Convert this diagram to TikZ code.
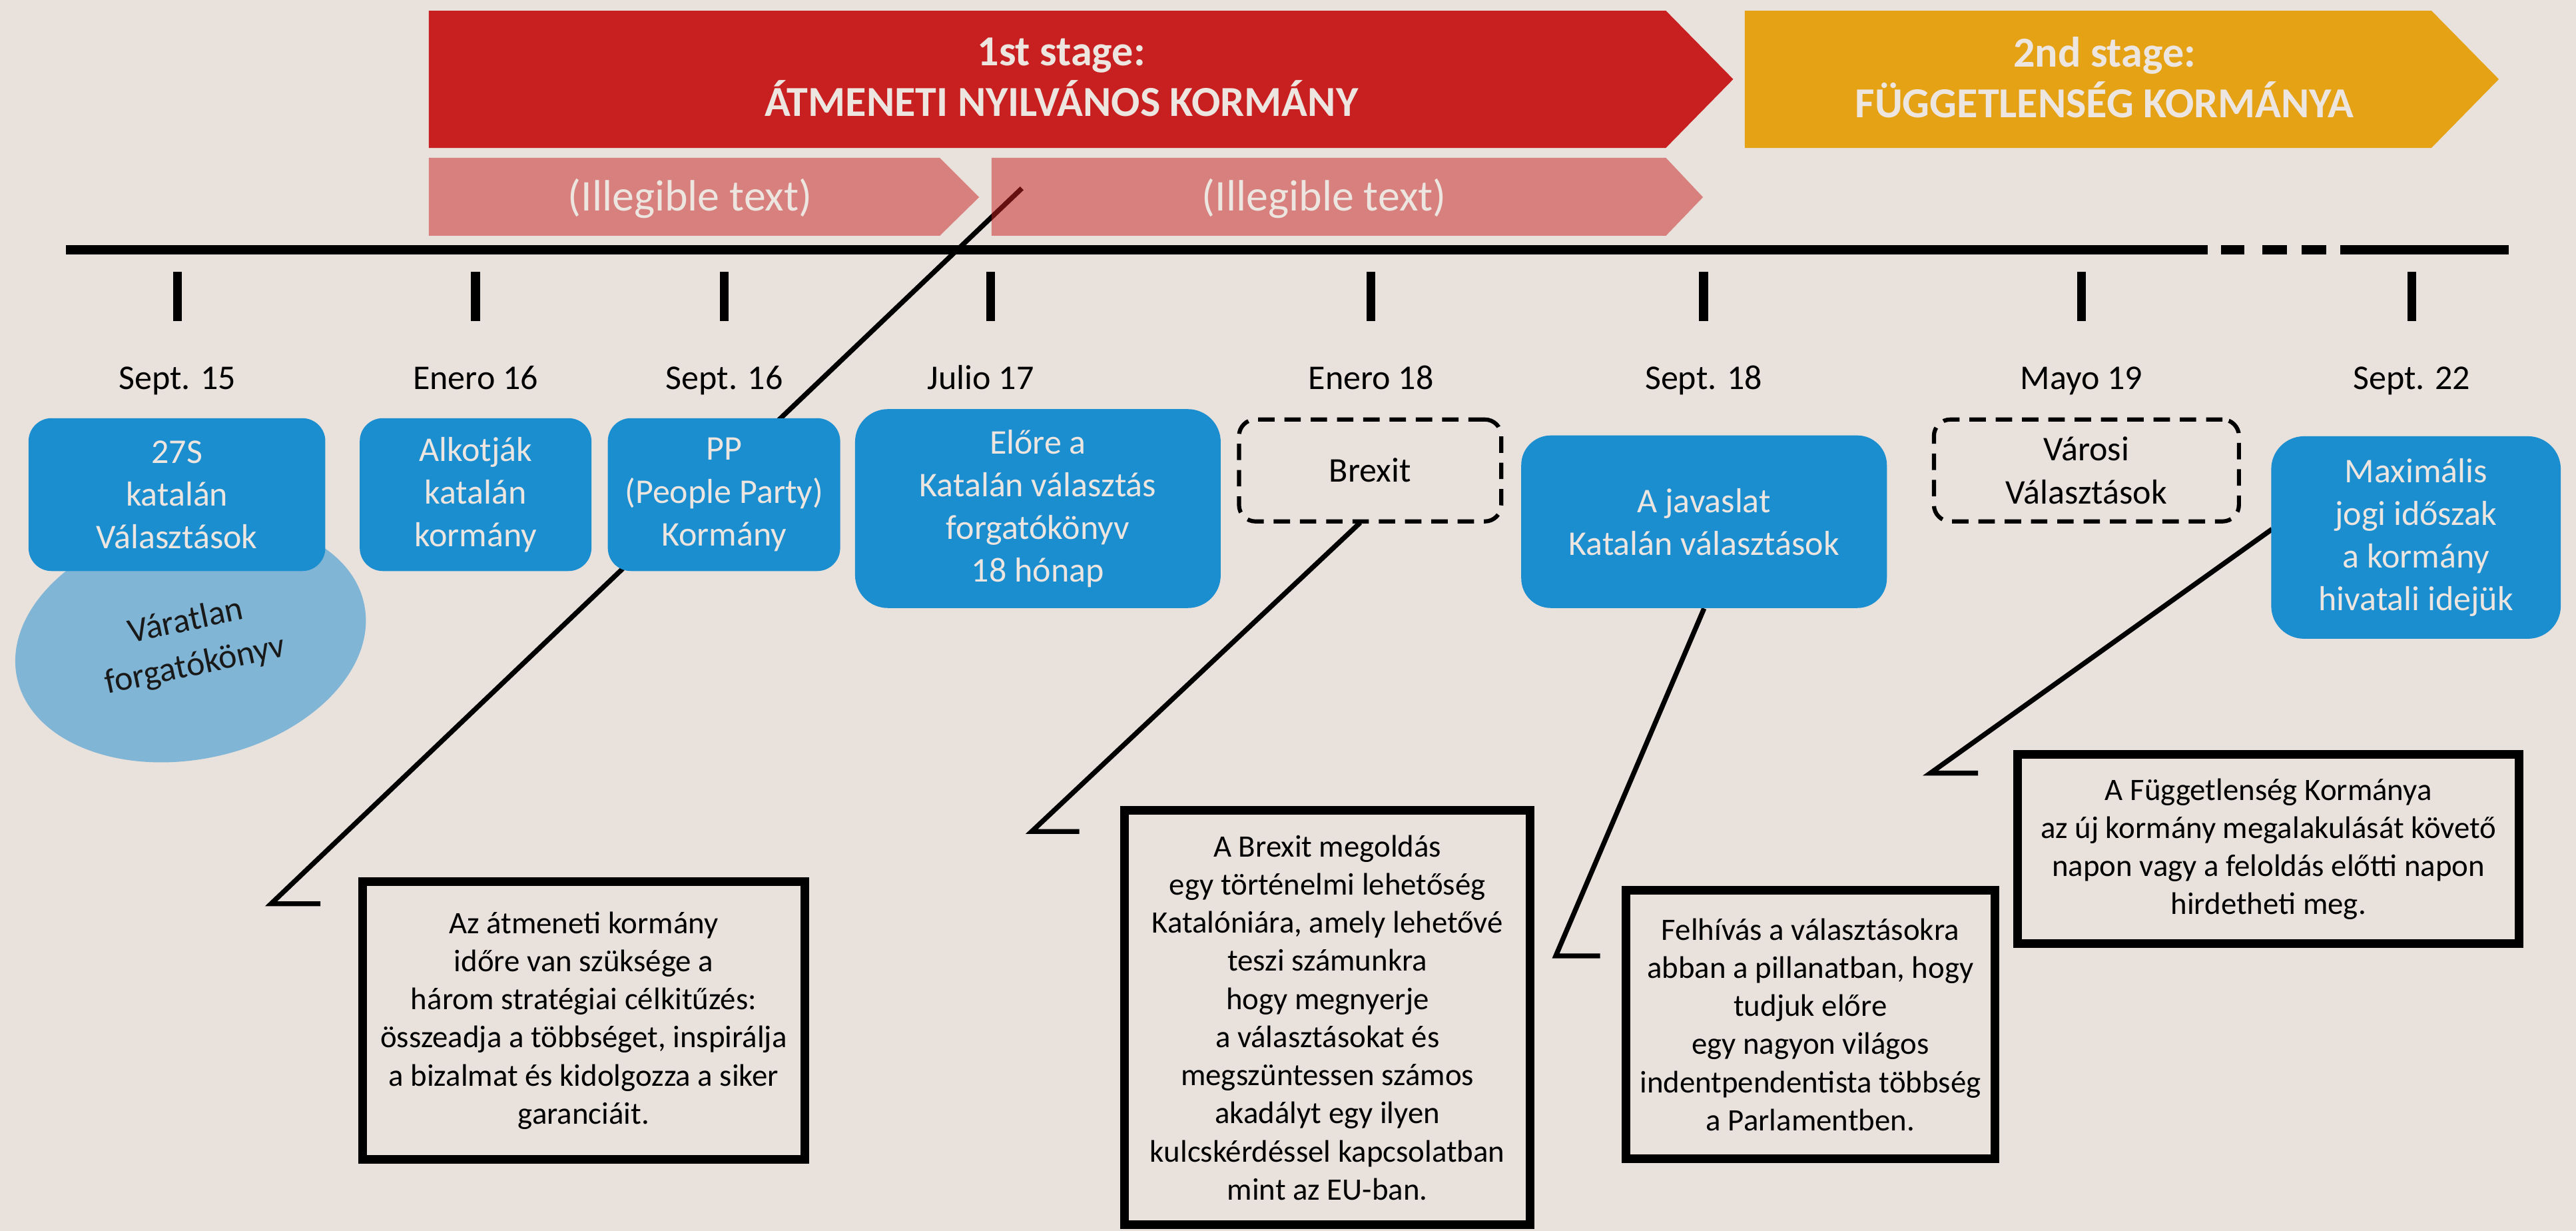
\documentclass[tikz,border=0pt]{standalone}
\usepackage{fontspec}
\setmainfont{Carlito}
\usetikzlibrary{backgrounds}
\definecolor{bgc}{HTML}{E8E1DC}
\definecolor{redc}{HTML}{C82020}
\definecolor{yelc}{HTML}{E5A214}
\definecolor{bluec}{HTML}{1B8ED0}
\definecolor{lbluec}{HTML}{80B5D6}
\definecolor{ltext}{HTML}{ECE5E0}
\begin{document}
\begin{tikzpicture}[x=0.025cm, y=-0.025cm,
  bluebox/.style={fill=bluec, text=ltext, align=center, inner sep=0pt, font=\fontsize{15}{18.5}\selectfont},
  dashbox/.style={draw=black, line width=0.0625cm, dash pattern=on 0.25cm off 0.15cm, align=center, inner sep=0pt, font=\fontsize{15}{18.5}\selectfont, rounded corners=0.25cm},
  notebox/.style={draw=black, line width=0.1325cm, align=center, inner sep=0pt, font=\fontsize{13.5}{16.5}\selectfont},
  datelbl/.style={anchor=base, font=\fontsize{15}{18}\selectfont},
  stagetitle/.style={text=ltext, align=center, font=\bfseries\fontsize{18.5}{22}\selectfont},
  pinktext/.style={text=ltext, font=\fontsize{19}{22}\selectfont},
  callout/.style={line width=0.075cm, line join=miter},
  tickmark/.style={line width=0.135cm},
  pinkarrow/.style={fill=redc, fill opacity=0.5},
]
\useasboundingbox (0,0) rectangle (1568,749);
\begin{pgfonlayer}{background}
  \fill[bgc] (0,0) rectangle (1568,749);
  \fill[lbluec, rotate around={12:(116,390)}] (116,390) ellipse [x radius=108, y radius=72];
\end{pgfonlayer}

% ellipse text
\node[rotate=12, align=center, font=\fontsize{15}{19.5}\selectfont, text=black!90] (unexp) at (116,392) {Váratlan\\forgatókönyv};

% stage banners
\fill[redc] (261,6.5) -- (1014,6.5) -- (1055,48.2) -- (1014,90) -- (261,90) -- cycle;
\fill[yelc] (1062,6.5) -- (1480,6.5) -- (1521,48.2) -- (1480,90) -- (1062,90) -- cycle;
\node[stagetitle] (st1) at (646,47) {1st stage:\\ÁTMENETI NYILVÁNOS KORMÁNY};
\node[stagetitle] (st2) at (1281,47) {2nd stage:\\FÜGGETLENSÉG KORMÁNYA};

% timeline
\draw[tickmark] (40,152) -- (1344,152);
\draw[tickmark] (1352,152) -- (1366,152);
\draw[tickmark] (1377,152) -- (1392,152);
\draw[tickmark] (1401,152) -- (1416,152);
\draw[tickmark] (1424.6,152) -- (1527,152);
\foreach \t in {107.9,289.5,440.9,603,834.5,1037,1267,1468}
  \draw[tickmark] (\t,165.5) -- (\t,195.5);

% dates
\node[datelbl] (d1) at (107.9,237) {Sept. 15};
\node[datelbl] (d2) at (289.5,237) {Enero 16};
\node[datelbl] (d3) at (440.9,237) {Sept. 16};
\node[datelbl] (d4) at (597,237) {Julio 17};
\node[datelbl] (d5) at (834.5,237) {Enero 18};
\node[datelbl] (d6) at (1037,237) {Sept. 18};
\node[datelbl] (d7) at (1267,237) {Mayo 19};
\node[datelbl] (d8) at (1468,237) {Sept. 22};

% event boxes
\node[bluebox, rounded corners=0.35cm, minimum width=4.515cm, minimum height=2.325cm] (e1) at (107.7,301) {27S\\katalán\\Választások};
\node[bluebox, rounded corners=0.35cm, minimum width=3.525cm, minimum height=2.325cm] (e2) at (289.5,301) {Alkotják\\katalán\\kormány};
\node[bluebox, rounded corners=0.35cm, minimum width=3.535cm, minimum height=2.325cm] (e3) at (440.7,301) {PP\\(People Party)\\Kormány};
\node[bluebox, rounded corners=0.5cm, minimum width=5.5625cm, minimum height=3.025cm] (e4) at (631.75,309.5) {Előre a\\Katalán választás\\forgatókönyv\\18 hónap};
\node[dashbox, minimum width=3.99cm, minimum height=1.55cm] (e5) at (834,286.3) {Brexit};
\node[bluebox, rounded corners=0.45cm, minimum width=5.5625cm, minimum height=2.625cm] (e6) at (1037.25,317.5) {A javaslat\\Katalán választások};
\node[dashbox, minimum width=4.64cm, minimum height=1.55cm] (e7) at (1270,286.3) {Városi\\Választások};
\node[bluebox, rounded corners=0.5cm, minimum width=4.405cm, minimum height=3.08cm] (e8) at (1470.6,327.1) {Maximális\\jogi időszak\\a kormány\\hivatali idejük};

% note boxes
\node[notebox, minimum width=6.73cm, minimum height=4.22cm] (n1) at (355.3,621) {Az átmeneti kormány\\időre van szüksége a\\három stratégiai célkitűzés:\\összeadja a többséget, inspirálja\\a bizalmat és kidolgozza a siker\\garanciáit.};
\node[notebox, minimum width=6.17cm, minimum height=6.305cm] (n2) at (808,619.25) {A Brexit megoldás\\egy történelmi lehetőség\\Katalóniára, amely lehetővé\\teszi számunkra\\hogy megnyerje\\a választásokat és\\megszüntessen számos\\akadályt egy ilyen\\kulcskérdéssel kapcsolatban\\mint az EU-ban.};
\node[notebox, minimum width=5.62cm, minimum height=4.09cm] (n3) at (1102,623.5) {Felhívás a választásokra\\abban a pillanatban, hogy\\tudjuk előre\\egy nagyon világos\\indentpendentista többség\\a Parlamentben.};
\node[notebox, minimum width=7.63cm, minimum height=2.88cm] (n4) at (1380.8,516.75) {A Függetlenség Kormánya\\az új kormány megalakulását követő\\napon vagy a feloldás előtti napon\\hirdetheti meg.};

% callout connectors
\coordinate (c1s) at (622,114.6);
\coordinate (c1k) at (165,550);
\coordinate (c1e) at (195,550);
\coordinate (c2s) at (828,318);
\coordinate (c2k) at (628,506);
\coordinate (c2e) at (657,506);
\coordinate (c3k) at (947,581.7);
\coordinate (c3e) at (974,581.7);
\coordinate (c4s) at (1383,322);
\coordinate (c4k) at (1175,470.5);
\coordinate (c4e) at (1204,470.5);
\begin{pgfonlayer}{background}
  \draw[callout] (c1s) -- (c1k) -- (c1e);
  \draw[callout] (c2s) -- (c2k) -- (c2e);
  \draw[callout] (e6.south) -- (c3k) -- (c3e);
  \draw[callout] (c4s) -- (c4k) -- (c4e);
\end{pgfonlayer}

% pink sub-arrows (semi-transparent over connector)
\fill[pinkarrow] (261,96) -- (572,96) -- (596,120) -- (572,143.5) -- (261,143.5) -- cycle;
\fill[pinkarrow] (603.6,96) -- (1014,96) -- (1036.6,120) -- (1014,143.5) -- (603.6,143.5) -- cycle;
\node[pinktext] (p1) at (420,121) {(Illegible text)};
\node[pinktext] (p2) at (806,121) {(Illegible text)};
\end{tikzpicture}
\end{document}
